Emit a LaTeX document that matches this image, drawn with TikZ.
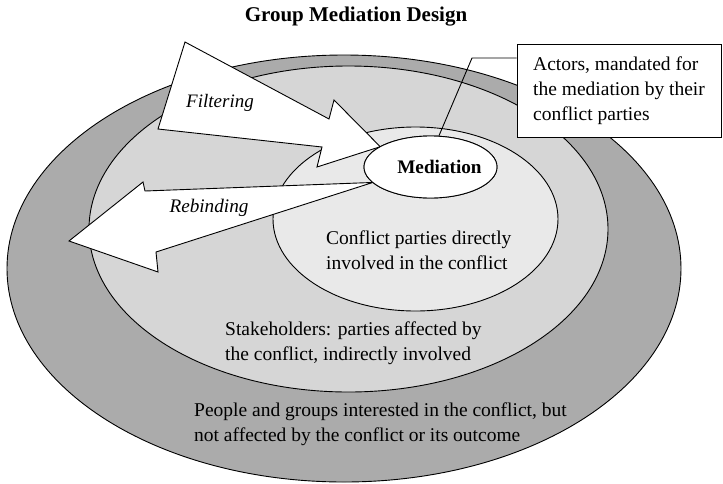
\documentclass[tikz,border=0pt]{standalone}
\usepackage{fontspec}
\setmainfont{Liberation Serif}
\usetikzlibrary{shapes.geometric,positioning}
\definecolor{outgray}{RGB}{171,171,171}
\definecolor{midgray}{RGB}{214,214,214}
\definecolor{inngray}{RGB}{233,233,233}
\tikzset{%
   ring/.style={ellipse, draw=black, line width=0.9pt, inner sep=0mm, outer sep=0mm},
   lbl/.style={align=left, inner sep=0pt, font=\fontsize{19.5}{24.8}\selectfont},
   arr/.style={draw=black, fill=white, line width=0.9pt, line join=miter},
}

\begin{document}
\begin{tikzpicture}[x=1pt, y=-1pt]
      \useasboundingbox (0,0) rectangle (723,483);
      \node[font=\bfseries\fontsize{21}{23}\selectfont] (ttl) at (356,17) {Group Mediation Design};
      % nested circles of parties
      \node[ring, fill=outgray, minimum width=674pt, minimum height=427pt] (out) at (344,268.5) {};
      \node[ring, fill=midgray, minimum width=519pt, minimum height=326pt] (mid) at (348.5,229) {};
      \node[ring, fill=inngray, minimum width=285pt, minimum height=184pt] (inn) at (415.5,219) {};
      \node[ring, fill=white, minimum width=133pt, minimum height=62pt] (med) at (430.5,167) {};
      % the two big arrows
      \draw[arr] (185,42) -- (329,119) -- (334,100) -- (med.158) -- (317,167) -- (322,147) -- (158,129) -- cycle;
      \draw[arr] (med.195) -- (145,191) -- (143,182) -- (69,241) -- (158,272) -- (156,252) -- cycle;
      \node[ring, fill=white, minimum width=133pt, minimum height=62pt] at (med) {};
      \node[font=\bfseries\fontsize{19.2}{22}\selectfont, inner sep=0pt] (medt) at ([xshift=9pt]med.center) {Mediation};
      \node[lbl, font=\itshape\fontsize{19}{22}\selectfont] (flt) at (220,103) {Filtering};
      \node[lbl, font=\itshape\fontsize{19.2}{22}\selectfont] (rbd) at (209,208) {Rebinding};
      \node[lbl, anchor=west] (cfl) at (326,250.5) {Conflict parties directly\\involved in the conflict};
      \node[lbl, anchor=west] (stk) at (225,343) {Stakeholders: parties affected by\\the conflict, indirectly involved};
      \node[lbl, anchor=west] (ppl) at (194,424.5) {People and groups interested in the conflict, but\\not affected by the conflict or its outcome};
      \node[lbl, draw=black, fill=white, line width=0.9pt, minimum width=204pt, minimum height=93pt] (act) at (619,90.5) {Actors, mandated for\\the mediation by their\\conflict parties};
      \coordinate (bend) at (472,58);
      \draw[line width=0.9pt] (med.75) -- (bend) -- (bend -| act.west);
   \end{tikzpicture}
\end{document}
